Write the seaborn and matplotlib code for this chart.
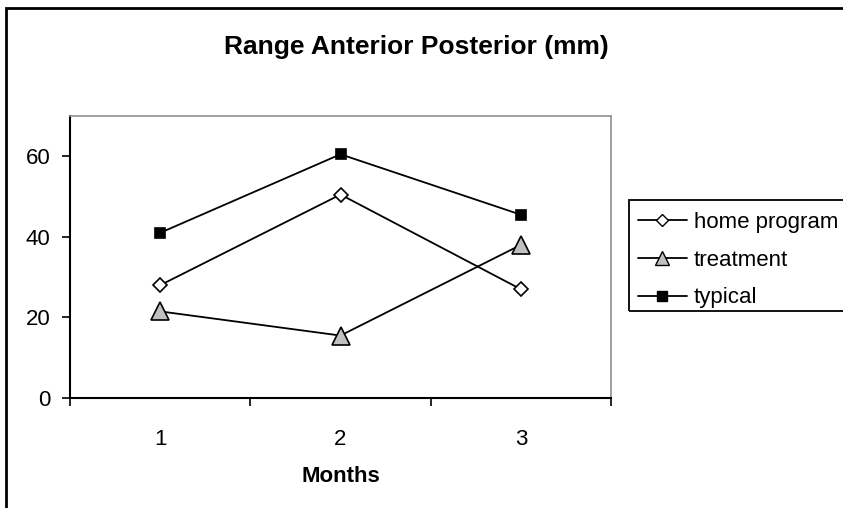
import matplotlib
matplotlib.use("Agg")
import matplotlib.pyplot as plt
import seaborn as sns
import pandas as pd
from matplotlib.patches import Rectangle
from matplotlib.lines import Line2D

months = [1, 2, 3]
home_program = [28, 50.5, 27]
treatment = [21.5, 15.5, 38]
typical = [41, 60.5, 45.5]
series_names = ["home program", "treatment", "typical"]
y_ticks = [0, 20, 40, 60]

sns.set_theme(style="white")
plt.rcParams['font.family'] = ['Liberation Sans', 'DejaVu Sans']
for k in ["text.color", "axes.labelcolor", "xtick.color", "ytick.color"]:
    plt.rcParams[k] = "black"

df = pd.DataFrame({
    "Months": months * 3,
    "value": home_program + treatment + typical,
    "series": [s for s in series_names for _ in months],
})

fig = plt.figure(figsize=(8.43, 5.08), dpi=100)
W, H = 843, 508
ax = fig.add_axes([70 / W, 1 - 398 / H, (611 - 70) / W, (398 - 116) / H])

styles = {
    "home program": dict(marker="D", markersize=7.5, markerfacecolor="white"),
    "treatment": dict(marker="^", markersize=13, markerfacecolor="#c0c0c0"),
    "typical": dict(marker="s", markersize=7.5, markerfacecolor="black"),
}
leg_sizes = {"home program": 6.2, "treatment": 10, "typical": 6.5}
for name in series_names:
    sub = df[df["series"] == name]
    sns.lineplot(data=sub, x="Months", y="value", ax=ax, color="black",
                 linewidth=1.3, markeredgecolor="black", markeredgewidth=1.2,
                 legend=False, **styles[name])

ax.set_xlim(0.5, 3.5)
ax.set_ylim(0, 70)
ax.set_yticks(y_ticks)
ax.set_yticklabels([str(v) for v in y_ticks], fontsize=16)
ax.set_xticks([0.5, 1.5, 2.5, 3.5])
ax.set_xticklabels([])
ax.set_xticks(months, minor=True)
ax.set_xticklabels([str(m) for m in months], minor=True, fontsize=16)
ax.tick_params(axis="x", which="major", direction="out", length=6, width=1.2, color="black", bottom=True)
ax.tick_params(axis="x", which="minor", length=0, pad=22)
ax.tick_params(axis="y", direction="out", length=6, width=1.2, color="black", left=True, pad=8)
ax.set_xlabel("Months", fontsize=16, fontweight="bold", labelpad=12)
ax.set_ylabel("")

for side in ["left", "bottom"]:
    ax.spines[side].set_color("black")
    ax.spines[side].set_linewidth(1.5)
for side in ["top", "right"]:
    ax.spines[side].set_color("#909090")
    ax.spines[side].set_linewidth(1.2)
    ax.spines[side].set_visible(True)

fig.text((223 + 610) / 2 / W, 1 - 47 / H, "Range Anterior Posterior (mm)",
         ha="center", va="center", fontsize=19, fontweight="bold")

handles = []
for name in series_names:
    st = dict(styles[name])
    st["markersize"] = leg_sizes[name]
    handles.append(Line2D([], [], color="black", linewidth=1.3,
                          markeredgecolor="black", markeredgewidth=1.0, **st))
leg = fig.legend(handles, series_names, loc="upper left",
                 bbox_to_anchor=(638 / W, 1 - 212 / H),
                 bbox_transform=fig.transFigure, frameon=False,
                 fontsize=16, handlelength=2.2, handletextpad=0.3,
                 borderpad=0.0, labelspacing=0.75, borderaxespad=0)

fig.patches.append(Rectangle((629 / W, 1 - 311 / H), 0.3, 111 / H,
                             transform=fig.transFigure, fill=False,
                             edgecolor="black", linewidth=1.3, zorder=0))
fig.patches.append(Rectangle((6 / W, -0.1), 1.1, 1 - 8 / H + 0.1,
                             transform=fig.transFigure, fill=False,
                             edgecolor="black", linewidth=2, zorder=0))

fig.savefig("out.png", dpi=100)
